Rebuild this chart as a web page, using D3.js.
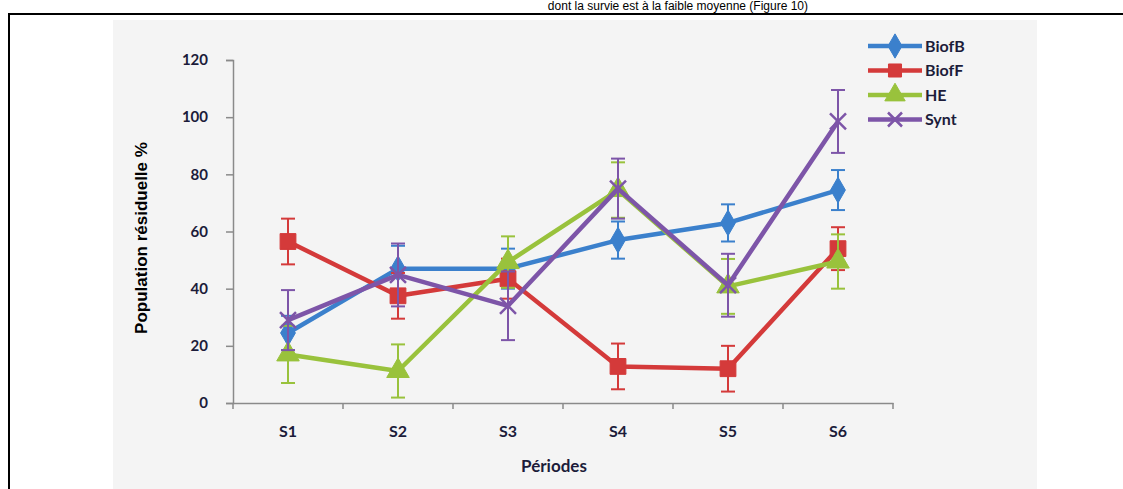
<!DOCTYPE html>
<html>
<head>
<meta charset="utf-8">
<script src="https://cdn.jsdelivr.net/npm/d3@7"></script>
<style>
  html, body { margin: 0; padding: 0; background: #fff; }
  svg { display: block; }
</style>
</head>
<body>
<svg id="fig" width="1123" height="489"></svg>
<script>
// Periods and series
const periods = ["S1", "S2", "S3", "S4", "S5", "S6"];
const seriesNames = ["BiofB", "BiofF", "HE", "Synt"];
const biofB = [24.5, 47, 47, 57, 63, 74.5];
const biofBErr = [6, 8, 7, 6.5, 6.5, 7];
const biofF = [56.5, 37.5, 43.5, 12.8, 12, 54];
const biofFErr = [8, 8, 7, 8, 8, 7.5];
const he = [17, 11.2, 49.3, 74.5, 40.8, 49.5];
const heErr = [10, 9.3, 9, 9.7, 9.6, 9.5];
const synt = [29, 44.8, 34, 75, 41.2, 98.5];
const syntErr = [10.5, 11, 12, 10.5, 11, 11];
const yTicks = [0, 20, 40, 60, 80, 100, 120];

const colors = ["#3b80cc", "#d43a3a", "#99c23c", "#7d55a8"];
const symbols = [d3.symbolDiamond, d3.symbolSquare, d3.symbolTriangle, d3.symbolCross];

const series = [
  { name: seriesNames[0], values: biofB, errs: biofBErr },
  { name: seriesNames[1], values: biofF, errs: biofFErr },
  { name: seriesNames[2], values: he, errs: heErr },
  { name: seriesNames[3], values: synt, errs: syntErr }
];

const svg = d3.select("#fig");
const textColor = "#1c1c3a";
const fontFam = "Lato, 'Open Sans', sans-serif";

// Running paragraph text above the framed figure
svg.append("text")
  .attr("x", 808).attr("y", 10)
  .attr("text-anchor", "end")
  .attr("font-family", "'Liberation Sans', Arial, sans-serif")
  .attr("font-size", 12)
  .attr("fill", "#000")
  .text("dont la survie est à la faible moyenne (Figure 10)");

// Figure frame
svg.append("path")
  .attr("d", "M9,489 L9,14 L1123,14")
  .attr("fill", "none").attr("stroke", "#000").attr("stroke-width", 2);

// Chart area background
svg.append("rect")
  .attr("x", 113).attr("y", 20).attr("width", 924).attr("height", 469)
  .attr("fill", "#f4f4f4");

const x = d3.scaleBand().domain(periods).range([233, 893]);
const y = d3.scaleLinear().domain([0, 120]).range([403, 60]);
const cx = p => x(p) + x.bandwidth() / 2;

// Y axis
const yAxis = svg.append("g")
  .attr("transform", "translate(233,0)")
  .call(d3.axisLeft(y).tickValues(yTicks).tickSize(7).tickPadding(18));
yAxis.select(".domain").attr("stroke", "#8a8a8a").attr("stroke-width", 1.5);
yAxis.selectAll(".tick line").attr("stroke", "#8a8a8a").attr("stroke-width", 1.5);
yAxis.selectAll(".tick text")
  .attr("font-family", fontFam).attr("font-weight", "bold")
  .attr("font-size", 15).attr("fill", textColor);

// X axis with ticks at band boundaries
const xAxis = svg.append("g")
  .attr("transform", "translate(0,403)")
  .call(d3.axisBottom(x).tickSize(0).tickPadding(23));
xAxis.select(".domain").attr("stroke", "#8a8a8a").attr("stroke-width", 1.5);
xAxis.selectAll(".tick text")
  .attr("font-family", fontFam).attr("font-weight", "bold")
  .attr("font-size", 16).attr("fill", textColor);
const bounds = periods.map(p => x(p)).concat([x(periods[periods.length - 1]) + x.bandwidth()]);
xAxis.selectAll(".bound").data(bounds).enter().append("line")
  .attr("x1", d => d).attr("x2", d => d)
  .attr("y1", 0).attr("y2", 6)
  .attr("stroke", "#8a8a8a").attr("stroke-width", 1.5);

// Axis titles
svg.append("text")
  .attr("x", 554).attr("y", 472)
  .attr("text-anchor", "middle")
  .attr("font-family", fontFam).attr("font-weight", "bold")
  .attr("font-size", 17).attr("fill", textColor)
  .text("Périodes");
svg.append("text")
  .attr("transform", "translate(147,238) rotate(-90)")
  .attr("text-anchor", "middle")
  .attr("font-family", "'Liberation Sans Narrow', 'Arial Narrow', sans-serif")
  .attr("font-weight", "bold")
  .attr("font-size", 17).attr("fill", "#000")
  .text("Population résiduelle %");

const line = d3.line().x((d, i) => cx(periods[i])).y(d => y(d));

function markerPath(i, size) {
  if (i === 3) {
    // X-shaped marker
    const s = size;
    return `M${-s},${-s}L${s},${s}M${-s},${s}L${s},${-s}`;
  }
  return d3.symbol().type(symbols[i]).size(size)();
}

series.forEach((s, si) => {
  const g = svg.append("g");
  const col = colors[si];
  // Error bars
  s.values.forEach((v, i) => {
    const px = cx(periods[i]);
    const top = y(v + s.errs[i]);
    const bot = y(Math.max(0, v - s.errs[i]));
    g.append("line").attr("x1", px).attr("x2", px).attr("y1", top).attr("y2", bot)
      .attr("stroke", col).attr("stroke-width", 2);
    [top, bot].forEach(yy => {
      g.append("line").attr("x1", px - 7).attr("x2", px + 7).attr("y1", yy).attr("y2", yy)
        .attr("stroke", col).attr("stroke-width", 2);
    });
  });
  // Series line
  g.append("path").datum(s.values)
    .attr("d", line)
    .attr("fill", "none").attr("stroke", col).attr("stroke-width", 4.5)
    .attr("stroke-linejoin", "round");
  // Markers
  g.selectAll(".m").data(s.values).enter().append("path")
    .attr("transform", (d, i) => `translate(${cx(periods[i])},${y(d)})`)
    .attr("d", markerPath(si, si === 3 ? 8 : (si === 0 ? 190 : (si === 2 ? 220 : 250))))
    .attr("fill", si === 3 ? "none" : col)
    .attr("stroke", col)
    .attr("stroke-width", si === 3 ? 2.5 : 1);
});

// Legend
const legend = svg.append("g");
series.forEach((s, si) => {
  const ly = 46 + si * 24.5;
  const col = colors[si];
  legend.append("line").attr("x1", 868).attr("x2", 922).attr("y1", ly).attr("y2", ly)
    .attr("stroke", col).attr("stroke-width", 4.5);
  legend.append("path")
    .attr("transform", `translate(895,${ly})`)
    .attr("d", markerPath(si, si === 3 ? 7 : (si === 2 ? 180 : 170)))
    .attr("fill", si === 3 ? "none" : col)
    .attr("stroke", col).attr("stroke-width", si === 3 ? 2.5 : 1);
  legend.append("text")
    .attr("x", 925).attr("y", ly + 5.5)
    .attr("font-family", fontFam).attr("font-weight", "bold")
    .attr("font-size", 16).attr("fill", textColor)
    .text(s.name);
});
</script>
</body>
</html>
